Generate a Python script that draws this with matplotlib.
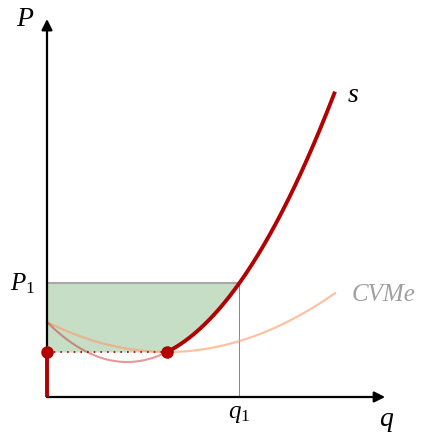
import numpy as np
import matplotlib
matplotlib.use('Agg')
import matplotlib.pyplot as plt

plt.rcParams['mathtext.fontset'] = 'custom'
plt.rcParams['mathtext.rm'] = 'Liberation Serif'
plt.rcParams['mathtext.it'] = 'Liberation Serif:italic'

# --- cost model: CVMe = a - b q + c q^2, CMg = a - 2b q + 3c q^2
a, b, c = 2.5, 0.5, 0.0625
q_end = 9.6          # where both curves stop
P1 = 3.8             # price level
x_max, y_max = 11.27, 12.6
labels = {'P': 'P', 'q': 'q', 's': 's', 'avc': 'CVMe', 'P1': '$P_1$', 'q1': '$q_1$'}

def cvme(q):
    return a - b * q + c * q ** 2

def cmg(q):
    return a - 2 * b * q + 3 * c * q ** 2

q_min = b / (2 * c)
p_min = cvme(q_min)
# q1 where CMg reaches P1
q1 = (2 * b + np.sqrt(4 * b ** 2 - 12 * c * (a - P1))) / (6 * c)

red = '#b30000'

fig = plt.figure(figsize=(4.31, 4.35), dpi=100)
ax = fig.add_axes([0, 0, 1, 1])
ax.set_xlim(-47 / 30, 384 / 30)
ax.set_ylim(-37 / 30, 398 / 30)
ax.axis('off')

# --- shaded area
qs = np.linspace(0, q1, 300)
upper = np.full_like(qs, P1)
lower = np.where(qs < q_min, p_min, np.minimum(cmg(qs), P1))
ax.fill_between(qs, lower, upper, color='#8fbc8f', alpha=0.5, lw=0, zorder=1)
ax.plot([0, q1], [P1, P1], color='#a8a8a8', lw=1.5, zorder=2)
ax.plot([q1, q1], [0, P1], color='#888888', lw=0.7, zorder=2)

# --- curves
qa = np.linspace(0, q_end, 300)
ax.plot(qa, cvme(qa), color='#ff9966', alpha=0.6, lw=1.6, zorder=3)
qb = np.linspace(0, q_min, 200)
ax.plot(qb, cmg(qb), color='#cc3333', alpha=0.5, lw=1.5, zorder=3)
qc = np.linspace(q_min, q_end, 300)
ax.plot(qc, cmg(qc), color=red, lw=2.8, zorder=4, solid_capstyle='butt')
ax.plot([0, 0], [0, p_min], color=red, lw=2.8, zorder=7, solid_capstyle='butt')
ax.plot([0, q_min], [p_min, p_min], color=red, lw=1.2, ls=(0, (1, 3)), zorder=3)
ax.plot([0, q_min], [p_min, p_min], 'o', color=red, ms=8, zorder=8)

# --- axes with arrows
ax.annotate('', xy=(x_max, 0), xytext=(0, 0),
            arrowprops=dict(arrowstyle='-|>', color='black', lw=1.6,
                            mutation_scale=16, shrinkA=0, shrinkB=0), zorder=6)
ax.annotate('', xy=(0, y_max), xytext=(0, 0),
            arrowprops=dict(arrowstyle='-|>', color='black', lw=1.6,
                            mutation_scale=16, shrinkA=0, shrinkB=0), zorder=6)

# --- labels
font = dict(family='Liberation Serif', style='italic', fontsize=20)
ax.text(-0.73, 12.6, labels['P'], ha='center', va='center', **font)
ax.text(11.3, -0.73, labels['q'], ha='center', va='center', **font)
ax.text(10.2, 10.1, labels['s'], ha='center', va='center', **font)
ax.text(10.15, 3.43, labels['avc'], ha='left', va='center', color='#a0a0a0',
        family='Liberation Serif', style='italic', fontsize=18)
ax.text(-0.4, P1, labels['P1'], ha='right', va='center', fontsize=18)
ax.text(q1, -0.5, labels['q1'], ha='center', va='center', fontsize=18)

fig.savefig('out.png', dpi=100)
